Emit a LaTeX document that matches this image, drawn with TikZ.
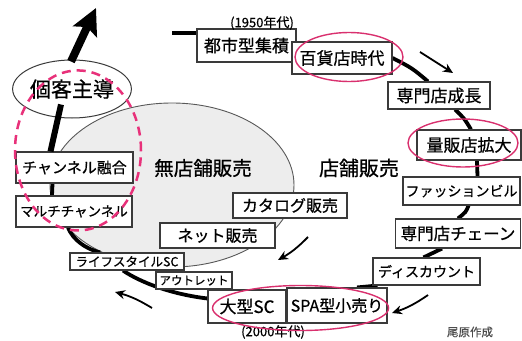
\documentclass[tikz,border=0pt]{standalone}
\usepackage{fontspec}
\setmainfont{Noto Sans CJK JP}[FakeBold=0.7]
\usetikzlibrary{arrows.meta,shapes.geometric}
\pgfdeclarelayer{blob}
\pgfdeclarelayer{bg}
\pgfsetlayers{blob,bg,main}
\definecolor{pinkline}{HTML}{D9306E}
\definecolor{pinkdash}{HTML}{E8317A}
\definecolor{blobfill}{HTML}{EDEDED}
\definecolor{boxline}{HTML}{3A3A3A}
\begin{document}
\begin{tikzpicture}[x=1pt,y=-1pt,
  box/.style={draw=boxline, line width=1.1pt, fill=white, inner sep=0pt, text=black},
  fs/.style={font=\fontsize{#1}{#1}\selectfont},
  ring/.style={line width=3.8pt, draw=black},
  hl/.style={draw=pinkline, line width=1.4pt},
  thinarrow/.style={line width=1.8pt, -{Stealth[length=10pt,width=9pt]}}]
\useasboundingbox (0,0) rectangle (522,340);

% boxes
\node[box, fs=17, minimum width=99pt, minimum height=33pt] (toshi) at (246.5,45.5) {都市型集積};
\node[box, fs=17, minimum width=100pt, minimum height=32pt] (hyakka) at (342,58) {百貨店時代};
\node[box, fs=17, minimum width=102pt, minimum height=27pt] (senmon) at (439,95.5) {専門店成長};
\node[box, fs=17, minimum width=104pt, minimum height=30pt] (ryohan) at (469,145) {量販店拡大};
\node[box, fs=14, minimum width=117pt, minimum height=28pt] (fashion) at (461.5,191) {ファッションビル};
\node[box, fs=16.5, minimum width=125pt, minimum height=29pt] (chain) at (458,233.5) {専門店チェーン};
\node[box, fs=14, minimum width=107pt, minimum height=27pt] (discount) at (426.5,271.5) {ディスカウント};
\node[box, fs=16, minimum width=100pt, minimum height=35pt] (spa) at (337,305.5) {SPA型小売り};
\node[box, fs=17, minimum width=78pt, minimum height=33pt] (ogata) at (247,306.5) {大型SC};
\node[box, fs=11.5, minimum width=76pt, minimum height=17pt] (outlet) at (194,280.5) {アウトレット};
\node[box, fs=12.5, minimum width=114pt, minimum height=17pt] (life) at (127,261.5) {ライフスタイルSC};
\node[box, fs=13.5, minimum width=116pt, minimum height=31pt] (multi) at (74,211.5) {マルチチャンネル};
\node[box, fs=15, minimum width=117pt, minimum height=31pt] (fusion) at (74.5,167.5) {チャンネル融合};
\node[box, fs=16, minimum width=114pt, minimum height=25pt] (catalog) at (290,205.5) {カタログ販売};
\node[box, fs=16, minimum width=115pt, minimum height=25pt] (net) at (217.5,235.5) {ネット販売};
\node[ellipse, draw=boxline, line width=1pt, fill=white, inner sep=0pt, fs=21,
      minimum width=109pt, minimum height=58pt] (kokyaku) at (72,89) {個客主導};

% labels
\node[fs=19.5] (mutenpo) at (203,168) {無店舗販売};
\node[fs=20] (tenpo) at (359,168) {店舗販売};
\node[fs=13] (y1950) at (262,23) {(1950年代)};
\node[fs=13] (y2000) at (273,332) {(2000年代)};
\node[fs=11.5, text=black!70] (obara) at (470,332) {尾原作成};

% non-store area
\begin{pgfonlayer}{blob}
\draw[draw=black!65, line width=0.9pt, fill=blobfill] (172,185) ellipse [x radius=122pt, y radius=82pt];
\end{pgfonlayer}

% ring
\coordinate (s0) at (172,33);
\begin{pgfonlayer}{bg}
\draw[ring] (s0) -- (s0 -| toshi.west);
\draw[ring] (hyakka.east) .. controls (412,68) .. ([xshift=-11pt]senmon.north);
\draw[ring] ([xshift=16pt]senmon.south) .. controls (464,118) .. ([xshift=2pt]ryohan.north);
\draw[ring] ([xshift=8pt]ryohan.south) -- ([xshift=16pt]fashion.north);
\draw[ring] ([xshift=7pt]fashion.south) .. controls (466,212) .. (chain.north);
\draw[ring] ([xshift=-16pt]chain.south) .. controls (433,253) .. ([xshift=-3pt]discount.north);
\draw[ring] ([xshift=5pt]discount.south west) .. controls (368,286) .. ([xshift=20pt]spa.north);
\draw[ring] ([yshift=8pt]ogata.west) .. controls (170,294) and (140,282) .. ([xshift=-4pt]life.south);
\draw[ring] ([xshift=-27pt]life.north) .. controls (86,249) and (73,240) .. ([xshift=-6pt]multi.south);
\draw[ring] ([xshift=-22pt]multi.north) -- ([xshift=-22pt]fusion.south);
\end{pgfonlayer}
\draw[line width=6pt] ([xshift=-24pt]fusion.north) -- ([xshift=-11pt,yshift=14pt]kokyaku.south);
\coordinate (tip) at (96,8);
\draw[line width=8pt, -{Stealth[length=26pt, width=26pt, inset=5pt]}] ([xshift=-1pt,yshift=-2pt]kokyaku.north) -- (tip);

% direction arrows
\coordinate (a1s) at (420,52); \coordinate (a1e) at (453,73);
\coordinate (a2s) at (308,237); \coordinate (a2e) at (278,260);
\coordinate (a3s) at (428,295); \coordinate (a3e) at (392,313);
\coordinate (a4s) at (152,308); \coordinate (a4e) at (115,292);
\draw[thinarrow] (a1s) -- (a1e);
\draw[thinarrow] (a2s) to[bend left=8] (a2e);
\draw[thinarrow] (a3s) to[bend left=8] (a3e);
\draw[thinarrow] (a4s) to[bend right=8] (a4e);

% highlights
\draw[hl] ([xshift=7pt,yshift=1pt]hyakka.center) ellipse [x radius=54pt, y radius=24.5pt];
\draw[hl] ([xshift=-6pt,yshift=2pt]ryohan.center) ellipse [x radius=55pt, y radius=24pt];
\draw[hl] ([xshift=14pt,yshift=-1.5pt]ogata.east) ellipse [x radius=88pt, y radius=22.5pt];
\draw[draw=pinkdash, dash pattern=on 9pt off 6pt, line width=2.5pt] ([xshift=3.5pt,yshift=1pt]fusion.north) ellipse [x radius=63pt, y radius=80pt];
\end{tikzpicture}
\end{document}
